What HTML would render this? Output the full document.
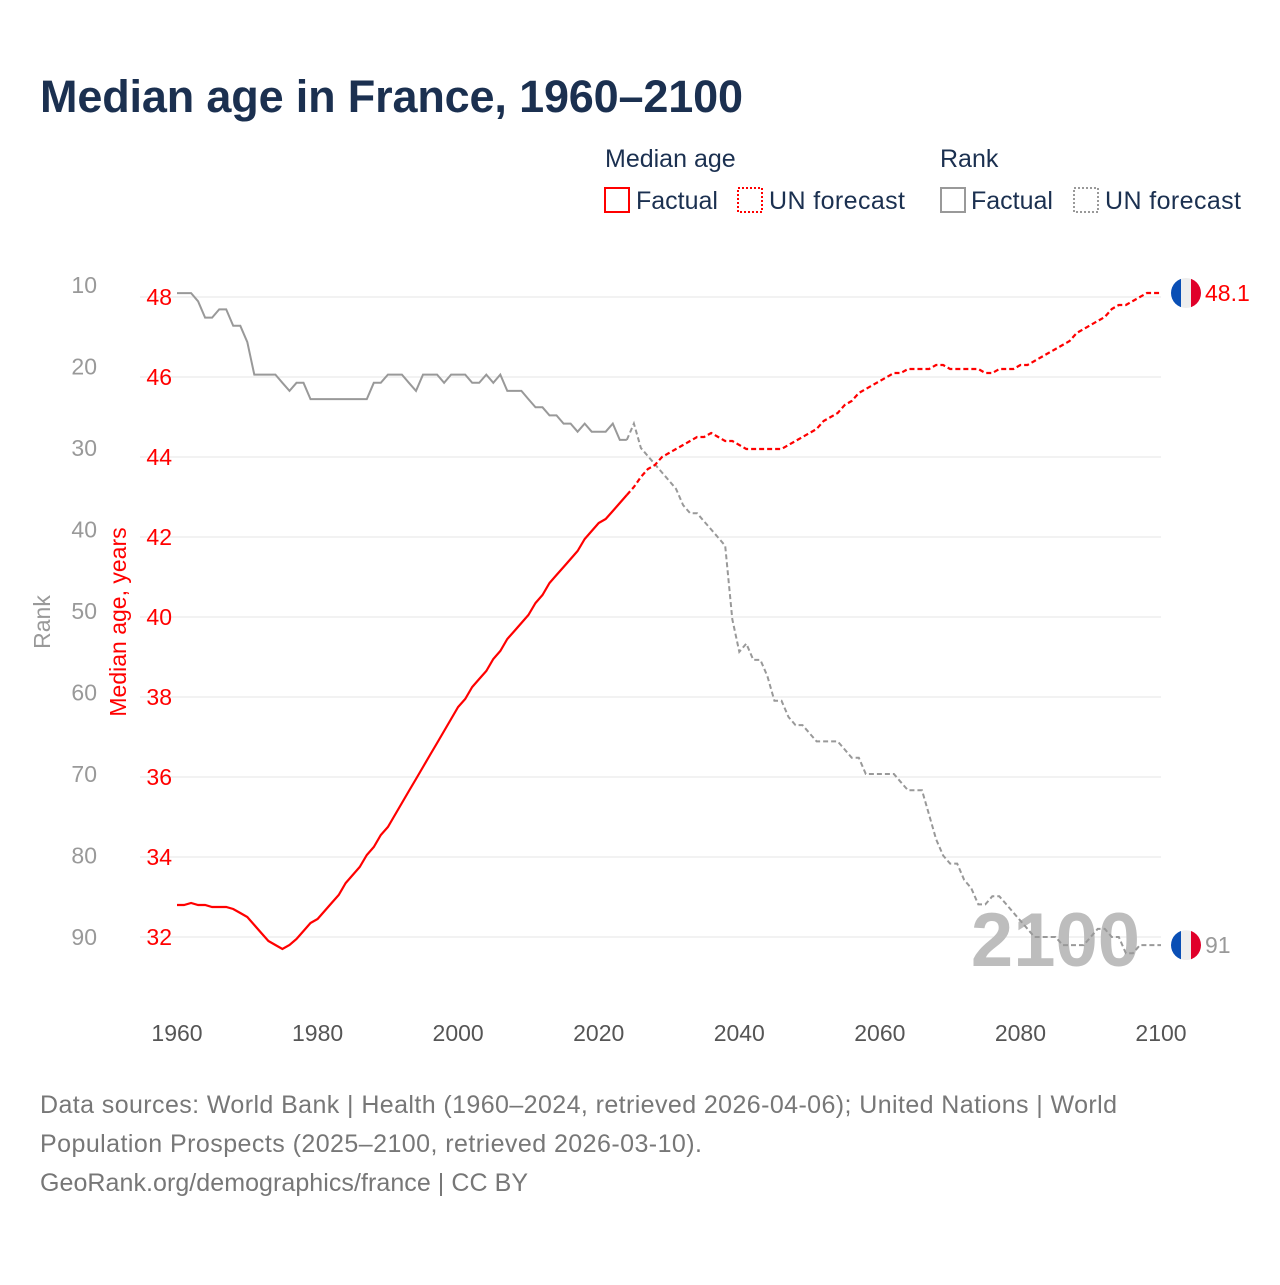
<!DOCTYPE html>
<html><head><meta charset="utf-8">
<style>
html,body{margin:0;padding:0;background:#fff;}
body{width:1280px;height:1280px;overflow:hidden;font-family:"Liberation Sans",sans-serif;}
svg text{font-family:"Liberation Sans",sans-serif;}
</style></head>
<body>
<svg id="chart" width="1280" height="1280" viewBox="0 0 1280 1280" xmlns="http://www.w3.org/2000/svg">
<text x="40" y="112" font-size="45" font-weight="bold" fill="#1b3050" textLength="703">Median age in France, 1960–2100</text>
<g font-size="25" fill="#1b3050">
<text x="605" y="167" fill="#1b3050">Median age</text>
<text x="940" y="167" fill="#1b3050">Rank</text>
<g><rect x="605" y="188" width="24" height="24" fill="none" stroke="#f00" stroke-width="2"/><text x="636" y="209" fill="#1b3050">Factual</text></g>
<g><rect x="738" y="188" width="24" height="24" fill="none" stroke="#f00" stroke-width="2" stroke-dasharray="2,2"/><text x="769" y="209" fill="#1b3050" textLength="136">UN forecast</text></g>
<g><rect x="941" y="188" width="24" height="24" fill="none" stroke="#999" stroke-width="2"/><text x="971" y="209" fill="#1b3050">Factual</text></g>
<g><rect x="1074" y="188" width="24" height="24" fill="none" stroke="#999" stroke-width="2" stroke-dasharray="2,2"/><text x="1105" y="209" fill="#1b3050" textLength="136">UN forecast</text></g>
</g>
<g id="grid"></g>
<g id="axes"></g>
<text x="1140" y="966" text-anchor="end" font-size="76" font-weight="bold" fill="#bdbdbd">2100</text>
<g id="series"></g>
<text transform="translate(50,622) rotate(-90)" text-anchor="middle" font-size="23" fill="#999">Rank</text>
<text transform="translate(126,622) rotate(-90)" text-anchor="middle" font-size="23" fill="#f00">Median age, years</text>
<g font-size="25" fill="#777">
<text x="40" y="1113" textLength="1077">Data sources: World Bank | Health (1960–2024, retrieved 2026-04-06); United Nations | World</text>
<text x="40" y="1152" textLength="662">Population Prospects (2025–2100, retrieved 2026-03-10).</text>
<text x="40" y="1191" textLength="488">GeoRank.org/demographics/france | CC BY</text>
</g>
</svg>
<script>
const ageFactualStart = 1960;
const ageFactual = [32.8,32.8,32.85,32.8,32.8,32.75,32.75,32.75,32.7,32.6,32.5,32.3,32.1,31.9,31.8,31.7,31.8,31.95,32.15,32.35,32.45,32.65,32.85,33.05,33.35,33.55,33.75,34.05,34.25,34.55,34.75,35.05,35.35,35.65,35.95,36.25,36.55,36.85,37.15,37.45,37.75,37.95,38.25,38.45,38.65,38.95,39.15,39.45,39.65,39.85,40.05,40.35,40.55,40.85,41.05,41.25,41.45,41.65,41.95,42.15,42.35,42.45,42.65,42.85,43.05];
const ageForecastStart = 2025;
const ageForecast = [43.25,43.5,43.7,43.8,44.0,44.1,44.2,44.3,44.4,44.5,44.5,44.6,44.5,44.4,44.4,44.3,44.2,44.2,44.2,44.2,44.2,44.2,44.3,44.4,44.5,44.6,44.7,44.9,45.0,45.1,45.3,45.4,45.6,45.7,45.8,45.9,46.0,46.1,46.1,46.2,46.2,46.2,46.2,46.3,46.3,46.2,46.2,46.2,46.2,46.2,46.1,46.1,46.2,46.2,46.2,46.3,46.3,46.4,46.5,46.6,46.7,46.8,46.9,47.1,47.2,47.3,47.4,47.5,47.7,47.8,47.8,47.9,48.0,48.1,48.1,48.1];
const rankFactual = [11,11,11,12,14,14,13,13,15,15,17,21,21,21,21,22,23,22,22,24,24,24,24,24,24,24,24,24,22,22,21,21,21,22,23,21,21,21,22,21,21,21,22,22,21,22,21,23,23,23,24,25,25,26,26,27,27,28,27,28,28,28,27,29,29];
const rankForecast = [27,30,31,32,33,34,35,37,38,38,39,40,41,42,51,55,54,56,56,58,61,61,63,64,64,65,66,66,66,66,67,68,68,70,70,70,70,70,71,72,72,72,75,78,80,81,81,83,84,86,86,85,85,86,87,88,89,90,90,90,90,91,91,91,91,90,89,89,90,90,92,92,91,91,91,91];
const xTicks = [1960,1980,2000,2020,2040,2060,2080,2100];
const ageTicks = [48,46,44,42,40,38,36,34,32];
const rankTicks = [10,20,30,40,50,60,70,80,90];
const ageLastLabel = "48.1";
const rankLastLabel = "91";

const NS = "http://www.w3.org/2000/svg";
const X = yr => 177 + (yr - 1960) * (984 / 140);
const YA = a => 297 + (48 - a) * 40;
const YR = r => 285 + (r - 10) * 8.15;
function mk(tag, attrs, parent){const e=document.createElementNS(NS,tag);for(const k in attrs)e.setAttribute(k,attrs[k]);parent.appendChild(e);return e;}
const grid=document.getElementById('grid'), axes=document.getElementById('axes'), series=document.getElementById('series');
ageTicks.forEach(a=>{
  const l=mk('line',{x1:140,x2:1161,y1:YA(a),y2:YA(a),stroke:'#e6e6e6','stroke-width':1},grid);
  
  
  const t=mk('text',{x:172,y:YA(a)+8,'text-anchor':'end','font-size':23,fill:'#f00'},axes);t.textContent=a;
  
  
});
rankTicks.forEach(r=>{
  const t=mk('text',{x:97,y:YR(r)+8,'text-anchor':'end','font-size':23,fill:'#999'},axes);t.textContent=r;
  
  
});
xTicks.forEach(y=>{
  const t=mk('text',{x:X(y),y:1041,'text-anchor':'middle','font-size':23,fill:'#555'},axes);t.textContent=y;
  
  
});
function pts(arr,start,yf,prefix){let p=prefix||[];arr.forEach((v,i)=>p.push(X(start+i).toFixed(1)+','+yf(v).toFixed(1)));return p.join(' ');}
const lastAF=ageFactual.length-1, lastRF=rankFactual.length-1;
let p;
p=mk('polyline',{points:pts(rankForecast,ageForecastStart,YR,[X(ageFactualStart+lastRF)+','+YR(rankFactual[lastRF])]),fill:'none',stroke:'#999','stroke-width':2,'stroke-dasharray':'5,3'},series);


p=mk('polyline',{points:pts(rankFactual,ageFactualStart,YR),fill:'none',stroke:'#999','stroke-width':2},series);


p=mk('polyline',{points:pts(ageForecast,ageForecastStart,YA,[X(ageFactualStart+lastAF)+','+YA(ageFactual[lastAF])]),fill:'none',stroke:'#f00','stroke-width':2.2,'stroke-dasharray':'5,3'},series);


p=mk('polyline',{points:pts(ageFactual,ageFactualStart,YA),fill:'none',stroke:'#f00','stroke-width':2.2},series);


function flag(cy,name){
  const g=mk('g',{},series);
  
  
  const cx=1186,r=15;
  mk('clipPath',{id:name+'-clip'},g);
  mk('circle',{cx:cx,cy:cy,r:r},g.lastChild);
  const gg=mk('g',{'clip-path':'url(#'+name+'-clip)'},g);
  mk('rect',{x:cx-r,y:cy-r,width:10,height:30,fill:'#0a4fb5'},gg);
  mk('rect',{x:cx-5,y:cy-r,width:10,height:30,fill:'#eeeeee'},gg);
  mk('rect',{x:cx+5,y:cy-r,width:10,height:30,fill:'#e0002a'},gg);
}
const lastAge = ageForecast[ageForecast.length-1], lastRank = rankForecast[rankForecast.length-1];
flag(YA(lastAge),'flag-age-end');
flag(YR(lastRank),'flag-rank-end');
let t=mk('text',{x:1205,y:YA(lastAge)+8,'font-size':23,fill:'#f00'},series);t.textContent=ageLastLabel;


t=mk('text',{x:1205,y:YR(lastRank)+8,'font-size':23,fill:'#999'},series);t.textContent=rankLastLabel;


</script>
</body></html>
